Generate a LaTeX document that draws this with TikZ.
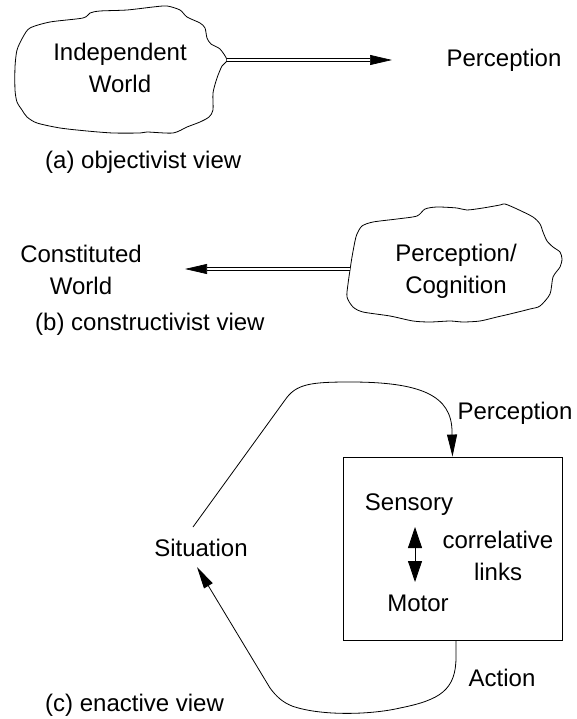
\documentclass[tikz,border=0pt]{standalone}
\usepackage{fontspec}
\setmainfont{Liberation Sans}
\usetikzlibrary{arrows.meta}
\begin{document}
\begin{tikzpicture}[x=1pt,y=-1pt,
  lbl/.style={font=\fontsize{24}{32}\selectfont, inner sep=0pt, align=center},
  caption/.style={lbl, anchor=west},
  outline/.style={line width=0.8pt, line join=round},
  dblarrow/.style={double, double distance=2.4pt, line width=0.7pt,
    -{Triangle[length=22pt,width=10pt]}},
  flow/.style={line width=0.8pt, -{Triangle[length=22pt,width=10pt]}},
  link/.style={line width=0.8pt, {Triangle[length=21pt,width=14pt]}-{Triangle[length=21pt,width=14pt]}},
]
\useasboundingbox (0,0) rectangle (577,719);

% ---------- (a) objectivist view ----------
\draw[outline] plot[smooth cycle, tension=0.45] coordinates {
  (30,28) (50,22) (83,18) (90,13) (100,11) (127,10) (153,7) (167,6) (180,10)
  (187,17) (200,23) (205,28) (207,38) (211,44) (220,49) (227,60) (222,66)
  (217,78) (213,93) (213,110) (209,117) (200,122) (187,127) (173,133)
  (147,132) (140,133) (113,133) (87,131) (60,128) (37,123) (27,117) (22,110)
  (17,102) (15,90) (15,67) (17,50) (23,37)};
\node[lbl] (indep) at (120,68) {Independent\\World};
\coordinate (aNotch) at (227,60);
\coordinate (aTip) at (392,60);
\node[lbl] (percA) at (504,60) {Perception};
\draw[dblarrow] (aNotch) -- (aTip);
\node[caption] (capA) at (45,162) {(a) objectivist view};

% ---------- (b) constructivist view ----------
\draw[outline, yshift=-4pt] plot[smooth cycle, tension=0.45] coordinates {
  (362,222) (373,218) (397,215) (417,212) (425,205) (437,203) (457,204)
  (467,206) (483,204) (500,201) (505,200) (517,205) (533,213) (540,220)
  (543,228) (547,237) (553,243) (560,248) (562,255) (560,263) (553,273)
  (550,290) (540,302) (530,305) (510,310) (497,313) (480,317) (463,318)
  (450,317) (430,318) (413,317) (390,312) (363,308) (353,303) (347,293)
  (348,280) (350,266) (352,253) (355,237) (357,230)};
\node[lbl] (percog) at (456,271) {Perception/\\Cognition};
\node[lbl] (constw) at (81,270) {Constituted\\World};
\coordinate (bNotch) at (350,269);
\coordinate (bTip) at (185,269);
\draw[dblarrow] (bNotch) -- (bTip);
\node[caption] (capB) at (35,324) {(b) constructivist view};

% ---------- (c) enactive view ----------
\node[draw, line width=0.9pt, minimum width=219pt, minimum height=183pt,
      inner sep=0pt] (agent) at (452.5,548.5) {};
\node[lbl] (sens) at (409,505) {Sensory};
\node[lbl] (motor) at (418,603) {Motor};
\node[lbl] (corr) at (498,556) {correlative\\links};
\coordinate (linkTop) at (415,527);
\coordinate (linkBot) at (415,582);
\draw[link] (linkTop) -- (linkBot);

\node[lbl] (situ) at (201,548) {Situation};
\node[lbl] (percC) at (515,413) {Perception};
\node[lbl] (action) at (502,678) {Action};
\node[caption] (capC) at (45,705) {(c) enactive view};

\coordinate (sitOut) at (193,527);
\coordinate (sitIn) at (197,567);
\coordinate (actOut) at (456,640);

% perception loop: situation -> agent
\draw[flow] (sitOut) -- (285,400)
  .. controls (296,384) and (310,382) .. (350,382)
  .. controls (420,382) and (452,395) .. (452,432) -- (agent.north);
% action loop: agent -> situation
\draw[flow] (actOut) -- (456,657)
  .. controls (456,690) and (440,700) .. (400,708)
  .. controls (370,715) and (320,716) .. (292,706)
  .. controls (282,702) and (276,696) .. (270,688) -- (sitIn);
\end{tikzpicture}
\end{document}
